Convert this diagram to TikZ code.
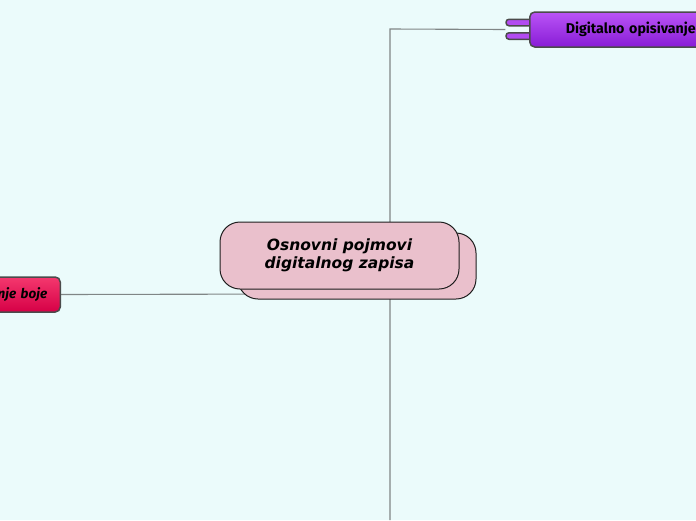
\documentclass[tikz,border=0pt]{standalone}
\usepackage{fontspec}
\setmainfont{DejaVu Sans}
\newfontfamily\fira{Fira Sans}
\usetikzlibrary{backgrounds}
\definecolor{bg}{RGB}{235,251,251}
\definecolor{cpink}{RGB}{234,192,204}
\definecolor{cborder}{RGB}{30,30,30}
\definecolor{nborder}{RGB}{75,75,75}
\definecolor{ptop}{RGB}{186,84,246}
\definecolor{pbot}{RGB}{136,28,214}
\definecolor{rtop}{RGB}{244,56,110}
\definecolor{rbot}{RGB}{214,0,70}
\definecolor{conncol}{RGB}{128,134,134}
\begin{document}
\begin{tikzpicture}[x=1pt,y=-1pt,
  centerbox/.style={draw=cborder, line width=1pt, fill=cpink, rounded corners=20pt,
    minimum width=239pt, minimum height=67pt, inner sep=0pt},
  conn/.style={draw=conncol, line width=1.1pt},
  topicbox/.style={draw=nborder, line width=1.5pt, rounded corners=5pt,
    minimum height=35pt, inner sep=0pt},
  tabbox/.style={draw=nborder, line width=1.5pt, rounded corners=3pt,
    minimum width=45pt, minimum height=6.5pt, inner sep=0pt, fill=ptop!85!pbot}
]
\useasboundingbox (0,0) rectangle (696,520);
\clip (0,0) rectangle (696,520);

% central topic with shadow copy
\node[centerbox, minimum width=238pt, minimum height=66pt] (csh) at (357,266) {};
\node[centerbox, align=center, font=\bfseries\itshape\fontsize{15.5}{18.5}\selectfont] (c) at (339.5,255.5)
  {Osnovni pojmovi\\digitalnog zapisa};

% purple topic (right top)
\node[tabbox] (tab1) at (528.5,22.5) {};
\node[tabbox] (tab2) at (528.5,36) {};
\node[topicbox, top color=ptop, bottom color=pbot, anchor=west, minimum width=220pt,
  text width=150pt, align=left, inner xsep=36pt,
  font=\fira\bfseries\fontsize{14.2}{16}\selectfont] (p) at (529,29.5) {Digitalno opisivanje};

% red topic (left)
\node[topicbox, top color=rtop, bottom color=rbot, anchor=east, text width=60pt,
  align=right, inner xsep=13pt,
  font=\fira\bfseries\itshape\fontsize{13.5}{15}\selectfont] (r) at (61,294.5) {nje boje};

\coordinate (top) at (390,29);
\coordinate (bottom) at (390,520);
\coordinate (cv) at (390,256);
\coordinate (cl) at (300,294);

\begin{pgfonlayer}{background}
\fill[bg] (0,0) rectangle (696,520);
\draw[conn] (tab1.west |- p.west) -- (top) -- (cv) -- (bottom);
\draw[conn] (r.east) -- (cl);
\end{pgfonlayer}
\end{tikzpicture}
\end{document}
